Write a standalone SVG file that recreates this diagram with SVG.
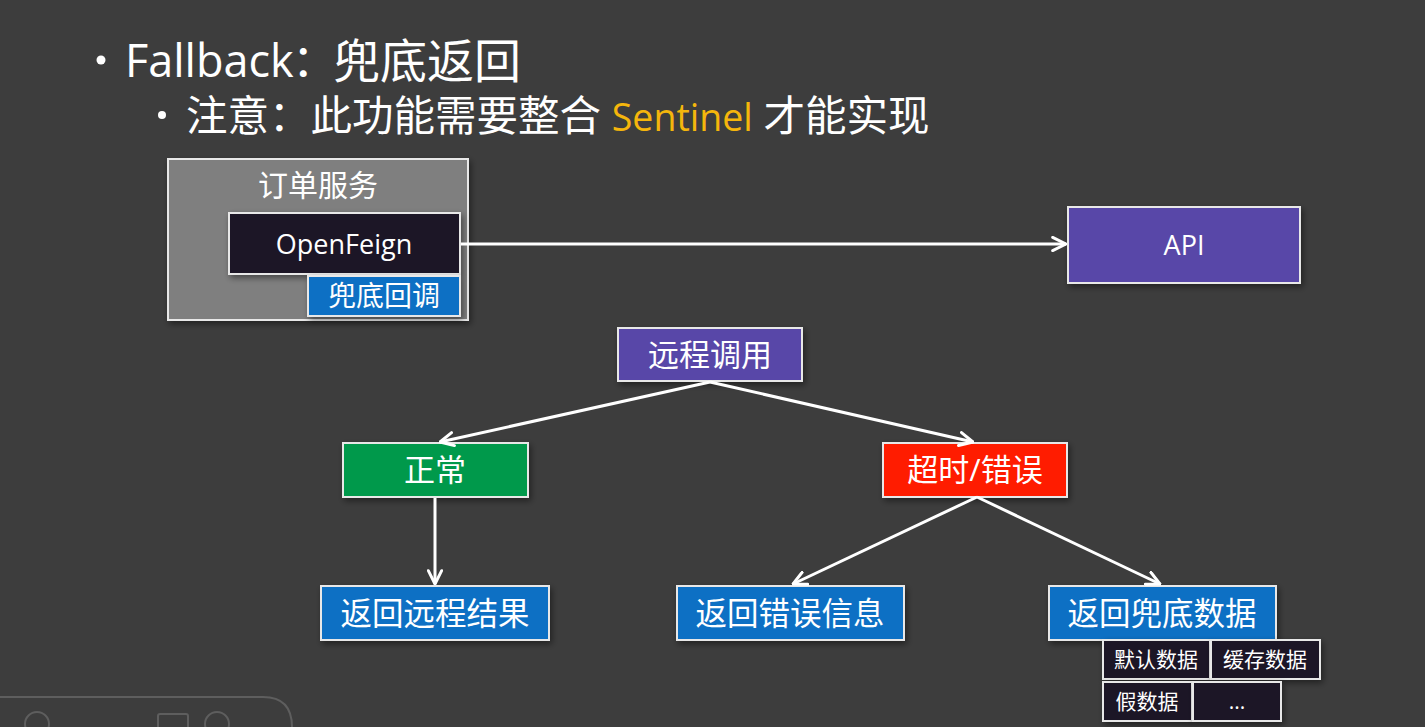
<svg xmlns="http://www.w3.org/2000/svg" width="1425" height="727" viewBox="0 0 1425 727">
<defs>
<style>
.t{font-family:"Open Sans","Noto Sans CJK SC",sans-serif;fill:#ffffff;text-anchor:middle}
.h{font-family:"Open Sans","Noto Sans CJK SC",sans-serif;fill:#ffffff}
.box{stroke:#e8e8e8;stroke-width:2;filter:url(#sh)}
.blue{fill:#0a6fc4}
.purple{fill:#5846a8}
.dark{fill:#1c1526}
.ln{stroke:#ffffff;stroke-width:3;fill:none;marker-end:url(#ar)}
</style>
<filter id="sh" x="-10%" y="-10%" width="130%" height="140%">
<feDropShadow dx="2" dy="3" stdDeviation="3" flood-color="#000" flood-opacity="0.45"/>
</filter>
<marker id="ar" viewBox="0 0 12 12" refX="11" refY="6" markerWidth="16" markerHeight="16" markerUnits="userSpaceOnUse" orient="auto">
<path d="M1,1 L11,6 L1,11" fill="none" stroke="#ffffff" stroke-width="2.2" stroke-linecap="round" stroke-linejoin="round"/>
</marker>
</defs>
<rect width="1425" height="727" fill="#3d3d3d"/>

<g id="title">
<circle cx="101" cy="60" r="4.5" fill="#ffffff"/>
<text class="h" x="125" y="77" font-size="45">Fallback<tspan x="292">：</tspan></text>
<text class="h" x="333" y="78" font-size="47">兜底返回</text>
<circle cx="162" cy="115" r="4" fill="#ffffff"/>
<text class="h" x="186" y="131" font-size="41.5">注意：此功能需要整合 <tspan fill="#f5b60c" font-size="37.5">Sentinel</tspan> 才能实现</text>
</g>

<g id="order-service">
<rect x="168" y="159" width="300" height="161" fill="#7f7f7f" class="box"/>
<text class="t" x="318" y="196" font-size="30">订单服务</text>
</g>
<g id="openfeign">
<rect x="229" y="213" width="231" height="61" class="box dark"/>
<text class="t" x="344" y="254" font-size="27">OpenFeign</text>
</g>
<g id="fallback-callback">
<rect x="308" y="276" width="152" height="40" class="box blue"/>
<text class="t" x="384" y="306" font-size="28">兜底回调</text>
</g>
<g id="api">
<rect x="1068" y="207" width="232" height="76" class="box purple"/>
<text class="t" x="1184" y="255" font-size="27">API</text>
</g>
<g id="remote-call">
<rect x="618" y="328" width="184" height="53" class="box purple"/>
<text class="t" x="710" y="366" font-size="31">远程调用</text>
</g>
<g id="normal">
<rect x="343" y="443" width="185" height="54" fill="#00994c" class="box"/>
<text class="t" x="435" y="481" font-size="31">正常</text>
</g>
<g id="timeout-error">
<rect x="883" y="443" width="184" height="54" fill="#ff1a00" class="box"/>
<text class="t" x="975" y="481" font-size="31">超时/错误</text>
</g>
<g id="return-remote">
<rect x="321" y="586" width="228" height="54" class="box blue"/>
<text class="t" x="435" y="625" font-size="31.5">返回远程结果</text>
</g>
<g id="return-error">
<rect x="677" y="586" width="227" height="54" class="box blue"/>
<text class="t" x="790" y="625" font-size="31.5">返回错误信息</text>
</g>
<g id="return-fallback">
<rect x="1049" y="586" width="227" height="54" class="box blue"/>
<text class="t" x="1162" y="625" font-size="31.5">返回兜底数据</text>
</g>
<g id="default-data">
<rect x="1103" y="640" width="107" height="39" class="box dark"/>
<text class="t" x="1156" y="667" font-size="21">默认数据</text>
</g>
<g id="cache-data">
<rect x="1211" y="640" width="109" height="39" class="box dark"/>
<text class="t" x="1265" y="667" font-size="21">缓存数据</text>
</g>
<g id="fake-data">
<rect x="1103" y="682" width="89" height="39" class="box dark"/>
<text class="t" x="1147" y="709" font-size="21">假数据</text>
</g>
<g id="more">
<rect x="1193" y="682" width="88" height="39" class="box dark"/>
<text class="t" x="1237" y="709" font-size="21">...</text>
</g>

<g id="connectors">
<line class="ln" x1="461" y1="244" x2="1066" y2="244"/>
<line class="ln" x1="710" y1="382" x2="440" y2="442"/>
<line class="ln" x1="710" y1="382" x2="973" y2="442"/>
<line class="ln" x1="435" y1="498" x2="435" y2="584"/>
<line class="ln" x1="977" y1="497" x2="793" y2="584"/>
<line class="ln" x1="977" y1="497" x2="1160" y2="584"/>
</g>

<g id="toolbar" fill="none" stroke="#5e5e5e" stroke-width="2">
<path d="M0,697 L263,697 Q292,697 292,727"/>
<circle cx="37" cy="724" r="12"/>
<circle cx="217" cy="724" r="12"/>
<rect x="158" y="714" width="30" height="20" rx="2"/>
</g>
</svg>
